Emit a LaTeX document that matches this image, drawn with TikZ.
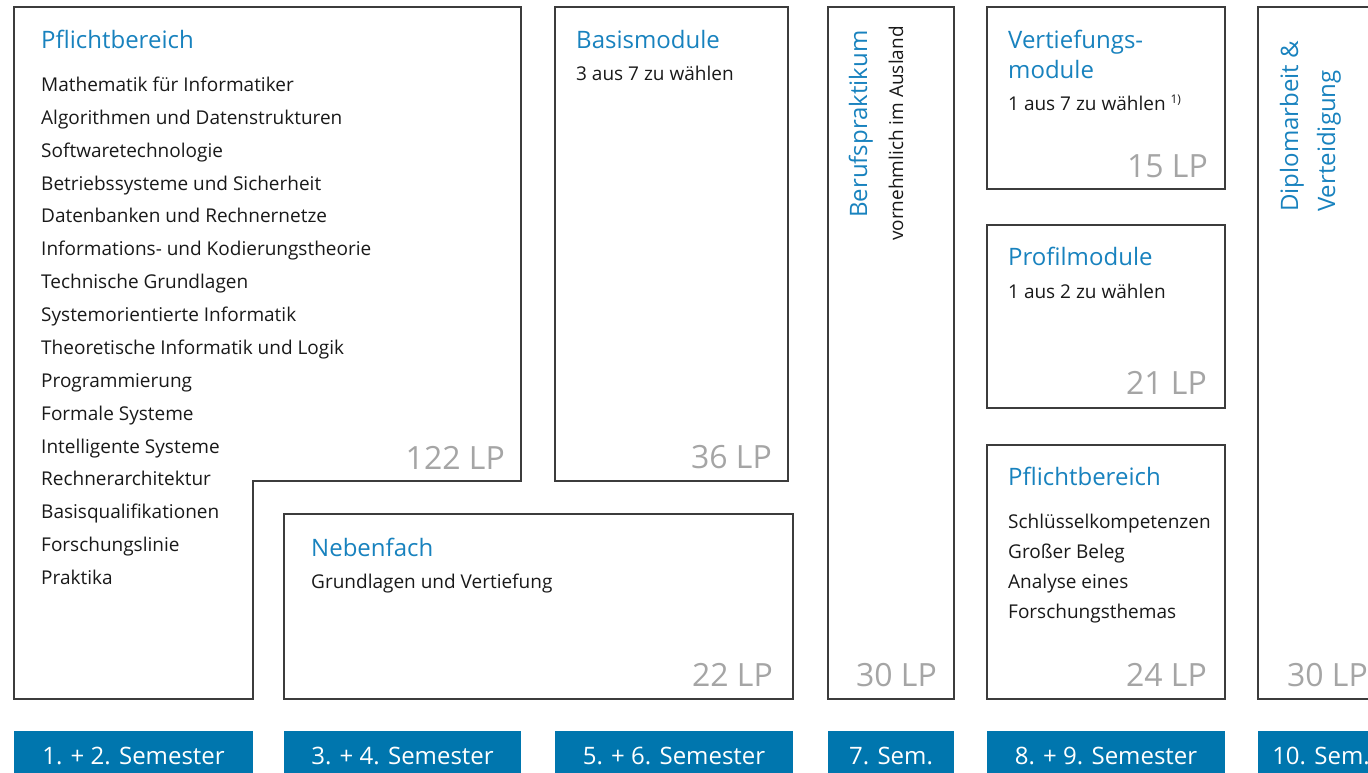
\documentclass[tikz,border=0pt]{standalone}
\usepackage{fontspec}
\setmainfont{Open Sans}
\definecolor{titleblue}{RGB}{24,130,190}
\definecolor{barblue}{RGB}{0,118,174}
\definecolor{lpgray}{RGB}{165,165,165}
\definecolor{framegray}{RGB}{60,60,60}
\definecolor{textdark}{RGB}{25,25,25}

\tikzset{
  frame/.style={draw=framegray, line width=1.4pt},
  head/.style={anchor=base west, inner sep=0pt, text=titleblue, font=\fontsize{24}{28}\selectfont},
  item/.style={anchor=base west, inner sep=0pt, text=textdark, font=\fontsize{19}{23}\selectfont},
  lp/.style={anchor=base east, inner sep=0pt, text=lpgray, font=\fontsize{32}{36}\selectfont},
  bar/.style={fill=barblue, draw=none},
  barlabel/.style={anchor=base, inner sep=0pt, text=white, font=\fontsize{24}{28}\selectfont},
}

\begin{document}
\begin{tikzpicture}[x=1pt, y=-1pt]
\useasboundingbox (0,0) rectangle (1368,773);
\clip (0,0) rectangle (1368,773);

% ---- frames ----
\draw[frame] (14,7) -- (521,7) -- (521,481) -- (253,481) -- (253,699) -- (14,699) -- cycle;
\draw[frame] (555,7) rectangle (788,481);
\draw[frame] (284,514) rectangle (793,699);
\draw[frame] (828,7) rectangle (954,699);
\draw[frame] (987,7) rectangle (1225,189);
\draw[frame] (987,225) rectangle (1225,408);
\draw[frame] (987,445) rectangle (1225,699);
\draw[frame] (1258,7) rectangle (1384,699);

% ---- Pflichtbereich (1.-2. Semester) ----
\node[head] (pfl) at (41,49) {Pflichtbereich};
\foreach \t [count=\i from 0] in {Mathematik für Informatiker,
  Algorithmen und Datenstrukturen, Softwaretechnologie,
  Betriebssysteme und Sicherheit, Datenbanken und Rechnernetze,
  Informations- und Kodierungstheorie, Technische Grundlagen,
  Systemorientierte Informatik, Theoretische Informatik und Logik,
  Programmierung, Formale Systeme, Intelligente Systeme,
  Rechnerarchitektur, Basisqualifikationen, Forschungslinie, Praktika}
  \node[item] (pfl\i) at (41,{91.5+32.87*\i}) {\t};
\node[lp] (pfllp) at (505,469.5) {122 LP};

% ---- Basismodule ----
\node[head] (bas) at (576,49) {Basismodule};
\node[item] (bas1) at (576,80.5) {3 aus 7 zu wählen};
\node[lp] (baslp) at (772,468.5) {36 LP};

% ---- Nebenfach ----
\node[head] (neb) at (311,556) {Nebenfach};
\node[item] (neb1) at (311,588) {Grundlagen und Vertiefung};
\node[lp] (neblp) at (773,686.5) {22 LP};

% ---- Berufspraktikum ----
\node[head, rotate=90] (ber) at (867,218) {Berufspraktikum};
\node[item, rotate=90] (ber1) at (903,241) {vornehmlich im Ausland};
\node[lp] (berlp) at (937,686.5) {30 LP};

% ---- Vertiefungsmodule ----
\node[head] (ver) at (1008,49) {Vertiefungs-};
\node[head] (ver2) at (1008,79) {module};
\node[item] (ver3) at (1008,110.5) {1 aus 7 zu wählen \raisebox{6.5pt}{\fontsize{12}{13}\selectfont 1)}};
\node[lp] (verlp) at (1208,177.5) {15 LP};

% ---- Profilmodule ----
\node[head] (pro) at (1008,265) {Profilmodule};
\node[item] (pro1) at (1008,298) {1 aus 2 zu wählen};
\node[lp] (prolp) at (1207,394.5) {21 LP};

% ---- Pflichtbereich (8.-9. Semester) ----
\node[head] (pfb) at (1008,485) {Pflichtbereich};
\foreach \t [count=\i from 0] in {Schlüsselkompetenzen, Großer Beleg,
  Analyse eines, Forschungsthemas}
  \node[item] (pfb\i) at (1008,{528+30.2*\i}) {\t};
\node[lp] (pfblp) at (1207,686.5) {24 LP};

% ---- Diplomarbeit ----
\node[head, rotate=90] (dip) at (1298,212) {Diplomarbeit \&};
\node[head, rotate=90] (dip2) at (1335,212) {Verteidigung};
\node[lp] (diplp) at (1368,686.5) {30 LP};

% ---- semester bars ----
\foreach \a/\b/\t [count=\i] in {14/253/{1. + 2. Semester}, 284/521/{3. + 4. Semester},
  555/793/{5. + 6. Semester}, 828/954/{7. Sem.}, 987/1225/{8. + 9. Semester},
  1258/1384/{10. Sem.}} {
  \fill[bar] (\a,731) rectangle (\b,785);
  \node[barlabel] (sem\i) at ({(\a+\b)/2},764) {\t};
}
\end{tikzpicture}
\end{document}
